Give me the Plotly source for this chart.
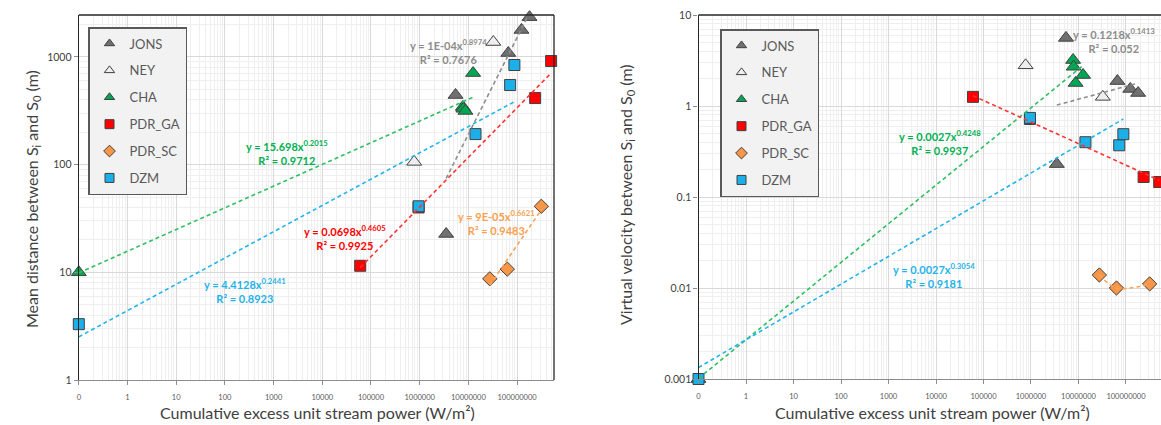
import numpy as np
import plotly.graph_objects as go

W, H = 1161, 425

# ---------------- data ----------------
series = ["JONS", "NEY", "CHA", "PDR_GA", "PDR_SC", "DZM"]

x_JONS = [3.5e6, 5.45e6, 6.6e7, 1.23e8, 1.8e8]
dist_JONS = [22.7, 443, 1087, 1780, 2340]
vel_JONS = [0.23, 5.6, 1.88, 1.54, 1.39]

x_NEY = [7.7e5, 3.25e7]
dist_NEY = [106, 1375]
vel_NEY = [2.8, 1.26]

x_CHA = [0.1, 7.7e6, 7.9e6, 8.7e6, 1.25e7]
dist_CHA = [10, 343, 330, 315, 708]
vel_CHA = [0.001, 3.2, 2.7, 1.79, 2.19]

x_PDR_GA = [6.0e4, 9.5e5, 2.35e8, 5.0e8]
dist_PDR_GA = [11.5, 40, 415, 916]
vel_PDR_GA = [1.26, 0.72, 0.166, 0.146]

x_PDR_SC = [2.75e7, 6.3e7, 3.15e8]
dist_PDR_SC = [8.7, 10.7, 41]
vel_PDR_SC = [0.0139, 0.0100, 0.0111]

x_DZM = [0.1, 9.5e5, 1.4e7, 7.2e7, 8.8e7]
dist_DZM = [3.3, 41, 192, 548, 841]
vel_DZM = [0.001, 0.74, 0.40, 0.37, 0.49]

# power-law trendlines y = a * x^b (as printed on the chart)
dist_trend_series = ["JONS", "CHA", "PDR_GA", "PDR_SC", "DZM"]
dist_trend_a = [1e-4, 15.698, 0.0698, 9e-5, 4.4128]
dist_trend_b = [0.8974, 0.2015, 0.4605, 0.6621, 0.2441]
dist_trend_r2 = ["0.7676", "0.9712", "0.9925", "0.9483", "0.8923"]
dist_trend_a_txt = ["1E-04", "15.698", "0.0698", "9E-05", "4.4128"]

vel_trend_series = ["JONS", "CHA", "PDR_GA", "DZM"]
vel_trend_a = [0.1218, 0.0027, 17.6, 0.0027]
vel_trend_b = [0.1413, 0.4248, -0.237, 0.3054]
vel_trend_r2 = ["0.052", "0.9937", None, "0.9181"]
vel_trend_a_txt = ["0.1218", "0.0027", None, "0.0027"]

x_tick_vals = [0.1, 1, 10, 100, 1000, 1e4, 1e5, 1e6, 1e7, 1e8]
x_tick_text = ["0", "1", "10", "100", "1000", "10000", "100000", "1000000", "10000000", "100000000"]
y1_tick_vals = [1, 10, 100, 1000]
y1_tick_text = ["1", "10", "100", "1000"]
y2_tick_vals = [0.001, 0.01, 0.1, 1, 10]
y2_tick_text = ["0.001", "0.01", "0.1", "1", "10"]

X = {"JONS": x_JONS, "NEY": x_NEY, "CHA": x_CHA, "PDR_GA": x_PDR_GA, "PDR_SC": x_PDR_SC, "DZM": x_DZM}
DIST = {"JONS": dist_JONS, "NEY": dist_NEY, "CHA": dist_CHA, "PDR_GA": dist_PDR_GA, "PDR_SC": dist_PDR_SC, "DZM": dist_DZM}
VEL = {"JONS": vel_JONS, "NEY": vel_NEY, "CHA": vel_CHA, "PDR_GA": vel_PDR_GA, "PDR_SC": vel_PDR_SC, "DZM": vel_DZM}

# ---------------- styles ----------------
FONT = "Lato"
style = {
    "JONS": dict(symbol="triangle-up", color="#707070", size=13),
    "NEY": dict(symbol="triangle-up", color="#eeeeee", size=13),
    "CHA": dict(symbol="triangle-up", color="#00a651", size=13),
    "PDR_GA": dict(symbol="square", color="#ff0000", size=11),
    "PDR_SC": dict(symbol="diamond", color="#f79646", size=11),
    "DZM": dict(symbol="square", color="#1cb0ea", size=11),
}
line_col = {"JONS": "#8c8c8c", "CHA": "#2fbf60", "PDR_GA": "#ff3333",
            "PDR_SC": "#f9a45c", "DZM": "#22b4ec"}
lab_col = {"JONS": "#8c8c8c", "CHA": "#00b050", "PDR_GA": "#ff0000",
           "PDR_SC": "#f9a04f", "DZM": "#1fb3ea"}


def px(xp):
    return xp / W


def py(yp):
    return 1 - yp / H


fig = go.Figure()

panels = [
    dict(xa="x", ya="y", data=DIST, legend="legend",
         trend=(dist_trend_series, dist_trend_a, dist_trend_b)),
    dict(xa="x2", ya="y2", data=VEL, legend="legend2",
         trend=(vel_trend_series, vel_trend_a, vel_trend_b)),
]

for p in panels:
    # markers
    for s in series:
        st = style[s]
        fig.add_trace(go.Scatter(
            x=X[s], y=p["data"][s], mode="markers", xaxis=p["xa"], yaxis=p["ya"],
            showlegend=False, name=s, cliponaxis=False,
            marker=dict(symbol=st["symbol"], color=st["color"], size=st["size"],
                        line=dict(color="#404040", width=1)),
        ))
    # trendlines (drawn above markers as in Excel)
    names, aa, bb = p["trend"]
    for s, a, b in zip(names, aa, bb):
        xs = np.array([min(X[s]), max(X[s])])
        ys = a * xs ** b
        fig.add_trace(go.Scatter(
            x=xs, y=ys, mode="lines", xaxis=p["xa"], yaxis=p["ya"], showlegend=False,
            line=dict(color=line_col[s], width=1.6, dash="4px,3px"), hoverinfo="skip",
        ))
    # legend entries
    for s in series:
        st = style[s]
        fig.add_trace(go.Scatter(
            x=[None], y=[None], mode="markers", xaxis=p["xa"], yaxis=p["ya"],
            name=s, legend=p["legend"], legendgroup=p["legend"] + s, showlegend=True,
            marker=dict(symbol=st["symbol"], color=st["color"], size=9,
                        line=dict(color="#404040", width=1)),
        ))

# PDR_SC connecting dashed curve in velocity panel
fig.add_trace(go.Scatter(
    x=X["PDR_SC"], y=VEL["PDR_SC"], mode="lines", xaxis="x2", yaxis="y2", showlegend=False,
    line=dict(color=line_col["PDR_SC"], width=1.6, dash="4px,3px", shape="spline"),
    hoverinfo="skip",
))

minor_vals = [m * 10.0 ** k for k in range(-3, 9) for m in range(2, 10)]

common_x = dict(
    type="log", tickmode="array", tickvals=x_tick_vals, ticktext=x_tick_text,
    tickfont=dict(family=FONT, size=7.5, color="#595959"),
    showgrid=True, gridcolor="#d9d9d9", gridwidth=1,
    minor=dict(tickmode="array", tickvals=minor_vals, showgrid=True,
               gridcolor="#efefef", gridwidth=1, ticks=""),
    showline=True, linecolor="#8c8c8c", linewidth=1.2,
    ticks="outside", ticklen=4, tickcolor="#8c8c8c",
    zeroline=False, automargin=False, ticklabelstandoff=6,
)
common_y = dict(
    type="log", tickmode="array",
    tickfont=dict(family=FONT, size=10.5, color="#404040"),
    showgrid=True, gridcolor="#d9d9d9", gridwidth=1,
    minor=dict(tickmode="array", tickvals=minor_vals, showgrid=True,
               gridcolor="#efefef", gridwidth=1, ticks=""),
    showline=True, linecolor="#262626", linewidth=1.3,
    ticks="outside", ticklen=4, tickcolor="#8c8c8c",
    zeroline=False, automargin=False,
)

leg_common = dict(xanchor="left", yanchor="top",
                  bgcolor="#f2f2f2", bordercolor="#595959", borderwidth=1.5,
                  font=dict(family=FONT, size=13, color="#595959"),
                  tracegroupgap=7, itemwidth=30)

fig.update_layout(
    width=W, height=H, margin=dict(l=0, r=0, t=0, b=0),
    paper_bgcolor="white", plot_bgcolor="white",
    font=dict(family=FONT, color="#404040"),
    xaxis=dict(common_x, domain=[px(78.8), px(554)], range=[-1, 8.758], anchor="y"),
    yaxis=dict(common_y, domain=[py(380), py(15)], range=[0, np.log10(2450)],
               tickvals=y1_tick_vals, ticktext=y1_tick_text, anchor="x"),
    xaxis2=dict(common_x, domain=[px(698.5), 1.0], range=[-1, 8.737], anchor="y2"),
    yaxis2=dict(common_y, domain=[py(379), py(15)], range=[-3, 1],
                tickvals=y2_tick_vals, ticktext=y2_tick_text, anchor="x2"),
    legend=dict(leg_common, x=px(88), y=py(27)),
    legend2=dict(leg_common, x=px(720), y=py(29)),
    showlegend=True,
)

# plot-area borders (top/right) as in the original
fig.add_shape(type="line", xref="x domain", yref="y domain", x0=0, x1=1, y0=1, y1=1,
              line=dict(color="#262626", width=1.3))
fig.add_shape(type="line", xref="x domain", yref="y domain", x0=1, x1=1, y0=0, y1=1,
              line=dict(color="#262626", width=1.3))
fig.add_shape(type="line", xref="x2 domain", yref="y2 domain", x0=0, x1=1, y0=1, y1=1,
              line=dict(color="#262626", width=1.3))


def note(xp, yp, text, size, color, angle=0):
    fig.add_annotation(x=px(xp), y=py(yp), xref="paper", yref="paper", showarrow=False,
                       xanchor="center", yanchor="middle", text=text, textangle=angle,
                       align="center", font=dict(family=FONT, size=size, color=color))


# axis titles
note(32, 199, "Mean distance between S<sub>i</sub> and S<sub>0</sub> (m)", 16, "#404040", -90)
note(627, 195, "Virtual velocity between S<sub>i</sub> and S<sub>0</sub> (m)", 16, "#404040", -90)
note(317, 412, "Cumulative excess unit stream power (W/m²)", 16, "#404040")
note(932, 412, "Cumulative excess unit stream power (W/m²)", 16, "#404040")

# trendline equation labels (pixel positions of label centres)
dist_lab_pos = {"JONS": (448, 51), "CHA": (287, 152), "PDR_GA": (345, 237),
                "PDR_SC": (496, 222), "DZM": (245, 290)}
for s, atxt, b, r2 in zip(dist_trend_series, dist_trend_a_txt, dist_trend_b, dist_trend_r2):
    xp, yp = dist_lab_pos[s]
    note(xp, yp, f"<b>y = {atxt}x<sup>{b:.4f}</sup><br>R² = {r2}</b>", 11, lab_col[s])

vel_lab_pos = {"JONS": (1114, 40), "CHA": (940, 142), "DZM": (934, 275)}
for s, atxt, b, r2 in zip(vel_trend_series, vel_trend_a_txt, vel_trend_b, vel_trend_r2):
    if r2 is None:
        continue
    xp, yp = vel_lab_pos[s]
    note(xp, yp, f"<b>y = {atxt}x<sup>{b:.4f}</sup><br>R² = {r2}</b>", 11, lab_col[s])

fig.write_html(
    "out.html",
    config={"displayModeBar": False},
    post_script="document.body.style.margin='0px';document.body.style.overflow='hidden';",
)
